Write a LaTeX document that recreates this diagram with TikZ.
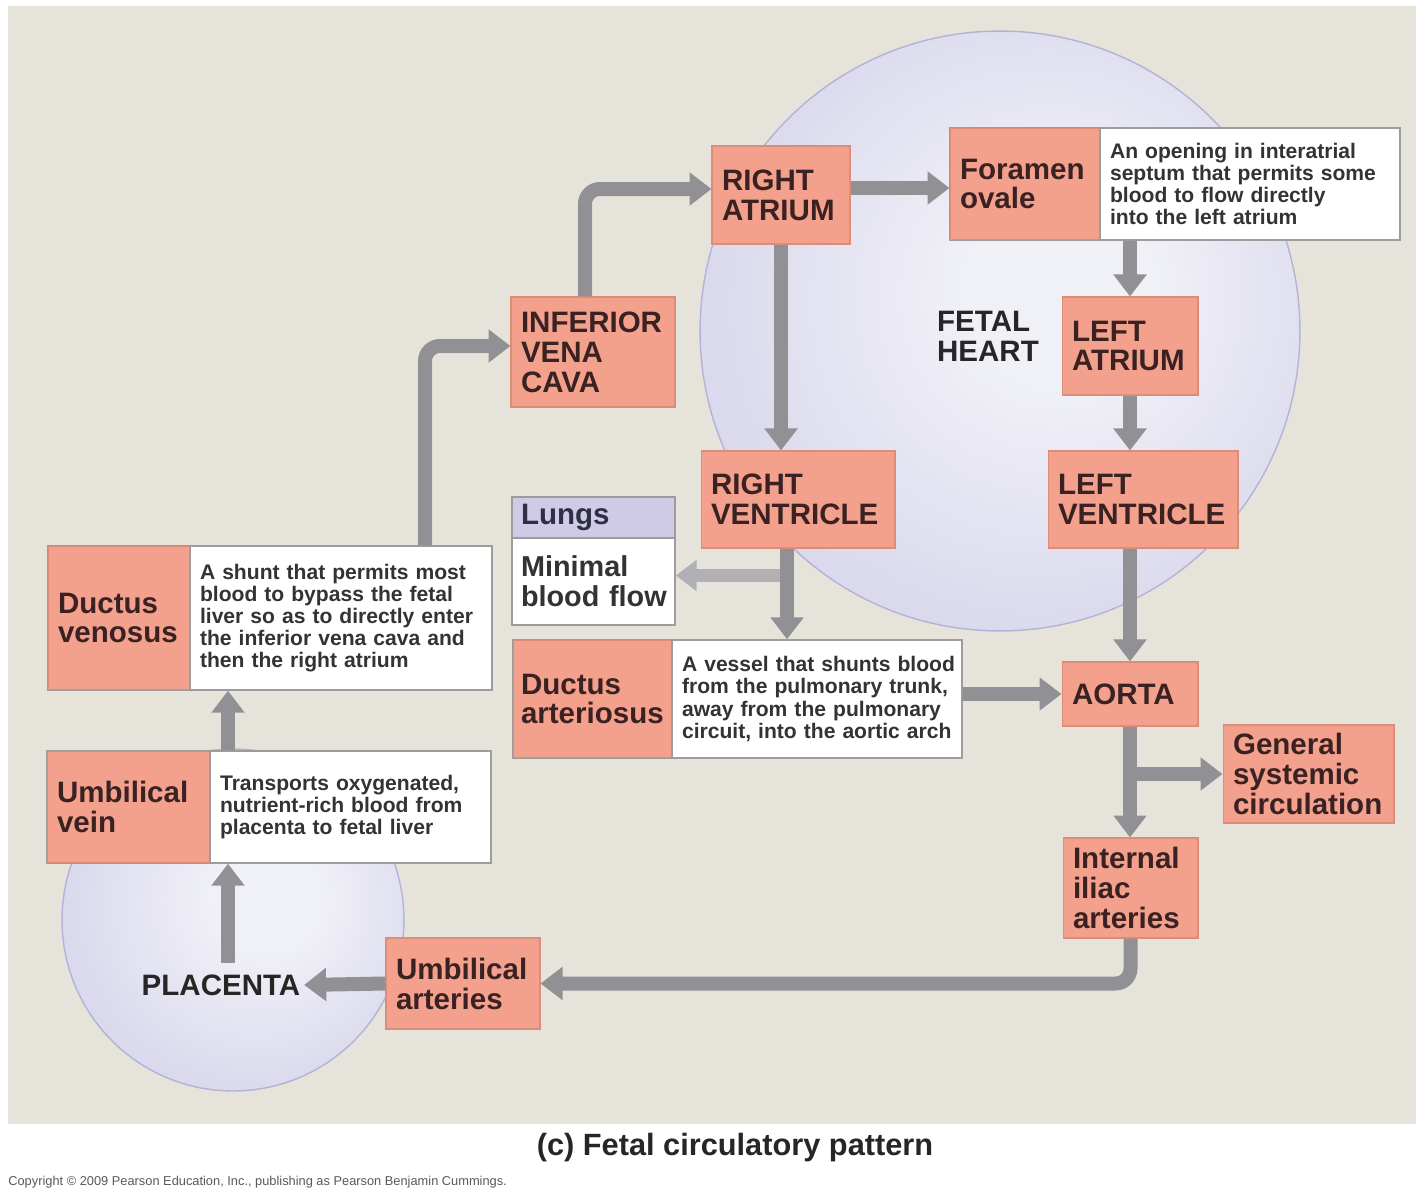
\documentclass[tikz,border=0pt]{standalone}
\usepackage{fontspec}
\setmainfont{Liberation Sans}
\usetikzlibrary{arrows.meta,calc}
\definecolor{bgbeige}{HTML}{E6E4DA}
\definecolor{salmon}{HTML}{F3A08D}
\definecolor{salmonedge}{HTML}{DE8C7A}
\definecolor{boxedge}{HTML}{9C9C9C}
\definecolor{arrowgray}{HTML}{909095}
\definecolor{lightarrow}{HTML}{B0B0B5}
\definecolor{lavhead}{HTML}{CFCBE6}
\definecolor{labeltext}{HTML}{3A2222}
\definecolor{desctext}{HTML}{333333}
\definecolor{lungtext}{HTML}{2E2E44}
\definecolor{circin}{HTML}{F0F0F7}
\definecolor{circout}{HTML}{C4C2E3}
\definecolor{circedge}{HTML}{B4B2D6}
\pgfdeclareradialshading{orb}{\pgfpoint{6bp}{4bp}}{color(0bp)=(circin); color(8bp)=(circin); color(47bp)=(circout); color(50bp)=(circedge)}
\hfuzz=20pt
\begin{document}
\begin{tikzpicture}[x=0.02cm,y=-0.02cm,
  lab/.style={fill=salmon, draw=salmonedge, line width=0.6pt, text=labeltext,
    font=\fontsize{16.8}{17}\selectfont\bfseries, align=left, inner xsep=0.2cm, inner ysep=0pt},
  desc/.style={fill=white, draw=boxedge, line width=0.8pt, text=desctext,
    font=\fontsize{12}{12.6}\selectfont\bfseries, align=left, inner xsep=0.2cm, inner ysep=0pt},
  lung/.style={draw=boxedge, line width=0.8pt, text=lungtext,
    font=\fontsize{16.8}{17}\selectfont\bfseries, align=left, inner xsep=0.18cm, inner ysep=0pt},
  plain/.style={text=black!85, font=\fontsize{16.8}{17}\selectfont\bfseries, align=left, inner sep=2pt},
  flow/.style={draw=arrowgray, line width=0.28cm, -{Triangle[width=0.64cm,length=0.44cm]}},
  flowlight/.style={draw=lightarrow, line width=0.26cm, -{Triangle[width=0.6cm,length=0.42cm]}},
  roundbend/.style={rounded corners=0.3cm}]

\useasboundingbox (0,0) rectangle (1425,1200);
\fill[white] (0,0) rectangle (1425,1200);
\fill[bgbeige] (8,6) rectangle (1416,1124);

% circles
\shade[shading=orb] (1000,331) circle[radius=6cm];
\draw[circedge, line width=0.8pt] (1000,331) circle[radius=6cm];
\shade[shading=orb] (233,920) circle[radius=3.42cm];
\draw[circedge, line width=0.8pt] (233,920) circle[radius=3.42cm];

% nodes
\node[lab, minimum width=2.76cm, minimum height=1.96cm, text width=2.36cm] (ra) at (781,195) {RIGHT\\ATRIUM};
\node[lab, minimum width=3.0cm, minimum height=2.24cm, text width=2.6cm] (fo) at (1025,184) {Foramen\\ovale};
\node[desc, minimum width=6.0cm, minimum height=2.24cm, text width=5.6cm] (fod) at (1250,184) {\mbox{An opening in interatrial}\\\mbox{septum that permits some}\\\mbox{blood to flow directly}\\\mbox{into the left atrium}};
\node[lab, minimum width=3.28cm, minimum height=2.2cm, text width=2.88cm] (ivc) at (593,352) {INFERIOR\\VENA\\CAVA};
\node[lab, minimum width=2.72cm, minimum height=1.96cm, text width=2.32cm] (la) at (1130,346) {LEFT\\ATRIUM};
\node[plain] (fh) at (988,336) {FETAL\\HEART};
\node[lab, minimum width=3.88cm, minimum height=1.94cm, text width=3.48cm] (rv) at (798,499.5) {RIGHT\\VENTRICLE};
\node[lab, minimum width=3.8cm, minimum height=1.94cm, text width=3.4cm] (lv) at (1143,499.5) {LEFT\\VENTRICLE};
\node[lung, fill=lavhead, minimum width=3.26cm, minimum height=0.82cm, text width=2.9cm] (lh) at (593.5,517.5) {Lungs};
\node[lung, fill=white, text=black!80, minimum width=3.26cm, minimum height=1.74cm, text width=2.9cm,
  font=\fontsize{16.4}{17}\selectfont\bfseries] (lb) at (593.5,581.5) {\mbox{Minimal}\\\mbox{blood flow}};
\node[lab, minimum width=2.84cm, minimum height=2.88cm, text width=2.44cm] (dvL) at (119,618) {Ductus\\\mbox{venosus}};
\node[desc, minimum width=6.04cm, minimum height=2.88cm, text width=5.64cm] (dvR) at (341,618) {\mbox{A shunt that permits most}\\\mbox{blood to bypass the fetal}\\\mbox{liver so as to directly enter}\\\mbox{the inferior vena cava and}\\\mbox{then the right atrium}};
\node[lab, minimum width=3.18cm, minimum height=2.36cm, text width=2.86cm, inner xsep=0.16cm] (daL) at (592.5,699) {Ductus\\\mbox{arteriosus}};
\node[desc, minimum width=5.8cm, minimum height=2.36cm, text width=5.4cm] (daR) at (817,699) {\mbox{A vessel that shunts blood}\\\mbox{from the pulmonary trunk,}\\\mbox{away from the pulmonary}\\\mbox{circuit, into the aortic arch}};
\node[lab, minimum width=2.72cm, minimum height=1.28cm, text width=2.32cm] (ao) at (1130,694) {AORTA};
\node[lab, minimum width=3.42cm, minimum height=1.96cm, text width=3.02cm] (gs) at (1308.5,774) {General\\systemic\\\mbox{circulation}};
\node[lab, minimum width=3.26cm, minimum height=2.24cm, text width=2.86cm] (uvL) at (128.5,807) {\mbox{Umbilical}\\vein};
\node[desc, minimum width=5.62cm, minimum height=2.24cm, text width=5.22cm] (uvR) at (350.5,807) {\mbox{Transports oxygenated,}\\\mbox{nutrient-rich blood from}\\\mbox{placenta to fetal liver}};
\node[lab, minimum width=2.7cm, minimum height=2.0cm, text width=2.3cm] (ii) at (1130.5,888) {Internal\\iliac\\arteries};
\node[lab, minimum width=3.08cm, minimum height=1.82cm, text width=2.68cm] (ua) at (463,983.5) {\mbox{Umbilical}\\arteries};
\node[plain] (pl) at (221,985) {PLACENTA};

% outlines of the two-part boxes
\draw[boxedge, line width=0.8pt] (fo.north west) rectangle (fod.south east);
\draw[boxedge, line width=0.8pt] (dvL.north west) rectangle (dvR.south east);
\draw[boxedge, line width=0.8pt] (daL.north west) rectangle (daR.south east);
\draw[boxedge, line width=0.8pt] (uvL.north west) rectangle (uvR.south east);

% caption
\node[font=\fontsize{17.5}{18}\selectfont\bfseries, text=black!85] (cap) at (735,1148) {(c) Fetal circulatory pattern};
\node[font=\fontsize{7.3}{8}\selectfont, text=black!65, anchor=west, inner sep=0pt] (copy) at (8,1182) {Copyright © 2009 Pearson Education, Inc., publishing as Pearson Benjamin Cummings.};

% column coordinates for the flow lines
\coordinate (colA) at (228,0);
\coordinate (colB) at (425,0);
\coordinate (colC) at (585,0);
\coordinate (colD) at (787,0);

% connectors
\draw[flow] ($(colA |- pl.north)+(0,-8)$) -- (colA |- uvR.south);
\draw[flow] (colA |- uvR.north) -- (colA |- dvR.south);
\draw[flow, roundbend] (colB |- dvR.north) |- ($(ivc.west)+(0,-6)$);
\draw[flow, roundbend] (colC |- ivc.north) |- ($(ra.west)+(0,-6)$);
\draw[flow] ($(ra.east |- fo.west)+(0,4)$) -- ($(fo.west)+(0,4)$);
\draw[flow] (la.north |- fod.south) -- (la.north);
\draw[flow] (la.south) -- (la.south |- lv.north);
\draw[flow] (ra.south) -- (ra.south |- rv.north);
\draw[flowlight] ($(colD |- lb.east)+(0,-6)$) -- ($(lb.east)+(0,-6)$);
\draw[flow] (colD |- rv.south) -- (colD |- daR.north);
\draw[flow] (ao.north |- lv.south) -- (ao.north);
\draw[flow] ($(daR.east)+(0,-5)$) -- ($(daR.east -| ao.west)+(0,-5)$);
\draw[flow] (ao.south |- gs.west) -- (gs.west);
\draw[flow] (ao.south) -- (ao.south |- ii.north);
\draw[flow, roundbend] (ii.south) |- (ua.east);
\draw[flow] (ua.west) -- (pl.east);
\end{tikzpicture}
\end{document}
